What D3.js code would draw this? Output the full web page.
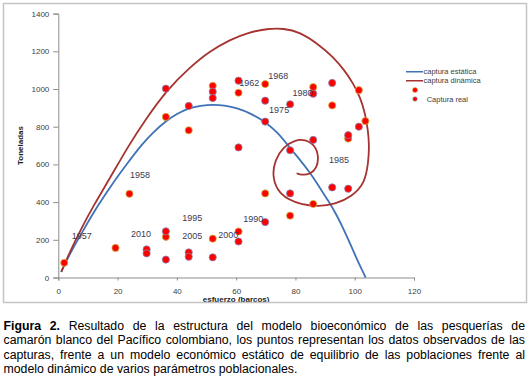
<!DOCTYPE html>
<html><head><meta charset="utf-8">
<script src="https://cdn.jsdelivr.net/npm/d3@7"></script>
<style>body{margin:0;background:#fff;} svg{display:block;}</style>
</head><body>
<svg id="c" width="531" height="381"></svg>
<script>
// ---------- data ----------
const xTicks = [0, 20, 40, 60, 80, 100, 120];
const yTicks = [0, 200, 400, 600, 800, 1000, 1200, 1400];

// captura estática
const staticCurve = [[1,30],[4,130],[8.5,252],[13,375],[19.7,530],[23,600],[28.3,709],[32,770],[36.4,832],[40,868],[44,899],[48,912],[52.2,918],[56,913],[60.2,900],[65,870],[69.5,830],[74,770],[78,690],[81.5,625],[85,555],[88,482],[91,409],[94,330],[96.6,245],[99,160],[101.2,80],[103.7,0]];

// captura dinámica
const dynamicCurve = [[1,30],[4,140],[7.5,252],[12,385],[17.4,526],[23.7,700],[29.5,840],[36.6,995],[44.4,1115],[51,1200],[58,1262],[64,1300],[70.5,1320],[76,1322],[81.5,1302],[87.5,1240],[92.7,1171],[96.5,1100],[99.5,1030],[102,950],[103.5,871],[104.5,780],[104.9,700],[104.6,610],[103.4,500],[99,429],[93.3,388],[87.7,376],[82.1,388],[77.6,411],[73.7,464],[72.2,544],[73.1,623],[75.9,694],[79.8,729],[83.2,733],[86.6,703],[87.9,641],[87.2,579],[84.9,547],[82.1,544],[80.4,553]];

// captura real, two marker series
const seriesA = [[2,78],[19.3,157],[24,444],[36.3,852],[36.3,216],[44,781],[52.1,1017],[52.1,206],[60.8,980],[60.8,244],[69.8,1026],[69.8,446],[78.2,328],[86,1010],[86,390],[92.4,913],[97.8,737],[101.4,994],[103.6,830]];
const seriesB = [[29.8,149],[29.8,128],[36.3,1002],[36.3,245],[36.3,95],[44,910],[44,133],[44,110],[52.1,986],[52.1,952],[52.1,107],[60.8,1044],[60.8,690],[60.8,191],[69.8,938],[69.8,827],[69.8,294],[78.2,919],[78.2,675],[78.2,446],[86,975],[86,730],[92.4,1032],[92.4,478],[97.8,755],[97.8,471],[101.4,800]];

// year annotations (label centres in data units)
const yearLabels = ["1957","1958","1962","1968","1975","1980","1985","1990","1995","2000","2005","2010"];
const yearX = [7.9, 27.6, 64.4, 74.2, 74.5, 82.4, 94.7, 65.8, 45.2, 57.3, 45.2, 27.9];
const yearY = [219, 542, 1030, 1069, 889, 980, 623, 312, 314, 224, 222, 232];

const legendLabels = ["captura estática", "captura dinámica", "", "Captura real"];
const xTitle = "esfuerzo (barcos)";
const yTitle = "Toneladas";

const captionBold = "Figura 2.";
const captionLines = [
  "Figura 2. Resultado de la estructura del modelo bioeconómico de las pesquerías de",
  "camarón blanco del Pacífico colombiano, los puntos representan los datos observados de las",
  "capturas, frente a un modelo económico estático de equilibrio de las poblaciones frente al",
  "modelo dinámico de varios parámetros poblacionales."
];

// ---------- drawing ----------
const svg = d3.select("#c");
const blue = "#3f72b6", red = "#a5332f";
const chartFont = "'Liberation Sans', Arial, sans-serif";

const x = d3.scaleLinear().domain([0, 120]).range([58.3, 414]);
const y = d3.scaleLinear().domain([0, 1400]).range([277.5, 13.6]);

svg.append("defs").append("clipPath").attr("id", "frameClip")
  .append("rect").attr("x", 3).attr("y", 3).attr("width", 524).attr("height", 299.5);

const chart = svg.append("g").attr("clip-path", "url(#frameClip)");

// axes
const yAxis = chart.append("g").attr("transform", `translate(${x(0)},0)`)
  .call(d3.axisLeft(y).tickValues(yTicks).tickFormat(d3.format("d")).tickSize(5).tickPadding(4));
const xAxis = chart.append("g").attr("transform", `translate(0,${y(0)})`)
  .call(d3.axisBottom(x).tickValues(xTicks).tickFormat(d3.format("d")).tickSize(3).tickPadding(8));
[xAxis, yAxis].forEach(a => {
  a.select(".domain").attr("stroke", "#8c8c8c");
  a.selectAll(".tick line").attr("stroke", "#8c8c8c");
  a.selectAll(".tick text").attr("fill", "#404040").style("font", `8px ${chartFont}`);
});

// axis titles
chart.append("text").attr("x", (x(0) + x(120)) / 2).attr("y", 302)
  .attr("text-anchor", "middle").attr("fill", "#1a1a1a")
  .style("font", `bold 8px ${chartFont}`).text(xTitle);
chart.append("text").attr("transform", `translate(22.5,${(y(0) + y(1400)) / 2}) rotate(-90)`)
  .attr("text-anchor", "middle").attr("fill", "#1a1a1a")
  .style("font", `bold 8px ${chartFont}`).text(yTitle);

// curves
const line = d3.line().x(d => x(d[0])).y(d => y(d[1])).curve(d3.curveBasis);
chart.append("path").datum(staticCurve).attr("d", line)
  .attr("fill", "none").attr("stroke", blue).attr("stroke-width", 1.8);
chart.append("path").datum(dynamicCurve).attr("d", line)
  .attr("fill", "none").attr("stroke", red).attr("stroke-width", 1.8);

// points
chart.append("g").selectAll("circle").data(seriesA).join("circle")
  .attr("cx", d => x(d[0])).attr("cy", d => y(d[1])).attr("r", 3.6)
  .attr("fill", "#ff0000").attr("stroke", "#c9bb4a").attr("stroke-width", 0.8);
chart.append("g").selectAll("circle").data(seriesB).join("circle")
  .attr("cx", d => x(d[0])).attr("cy", d => y(d[1])).attr("r", 3.6)
  .attr("fill", "#ff0000").attr("stroke", "#7d88bb").attr("stroke-width", 0.8);

// year labels
chart.append("g").selectAll("text").data(yearLabels).join("text")
  .attr("x", (d, i) => x(yearX[i])).attr("y", (d, i) => y(yearY[i]))
  .attr("dy", "0.35em").attr("text-anchor", "middle")
  .attr("fill", "#3d3a52").style("font", `9px ${chartFont}`).text(d => d);

// legend
const lg = chart.append("g");
const lgY = [71.7, 80.7, 90, 99];
lg.append("line").attr("x1", 406).attr("x2", 423).attr("y1", lgY[0]).attr("y2", lgY[0]).attr("stroke", blue).attr("stroke-width", 1.6);
lg.append("line").attr("x1", 406).attr("x2", 423).attr("y1", lgY[1]).attr("y2", lgY[1]).attr("stroke", red).attr("stroke-width", 1.6);
lg.append("circle").attr("cx", 415).attr("cy", lgY[2]).attr("r", 2.5).attr("fill", "#ff0000").attr("stroke", "#c9bb4a").attr("stroke-width", 0.5);
lg.append("circle").attr("cx", 415).attr("cy", lgY[3]).attr("r", 2.3).attr("fill", "#ff0000").attr("stroke", "#7fb0c0").attr("stroke-width", 0.6);
const lgX = [423.5, 423.5, 426.7, 426.7];
lg.selectAll("text").data(legendLabels).join("text")
  .attr("x", (d, i) => lgX[i]).attr("y", (d, i) => lgY[i]).attr("dy", "0.35em")
  .attr("fill", "#404040").style("font", `7.5px ${chartFont}`).text(d => d);

// frame
svg.append("rect").attr("x", 3.5).attr("y", 3.5).attr("width", 523).attr("height", 299)
  .attr("fill", "none").attr("stroke", "#c4c4c4").attr("stroke-width", 1.5);

// caption (justified)
const capLeft = 3.5, capRight = 525, capBase = 330, capLH = 14.4;
const boldWords = captionBold.split(" ");
captionLines.forEach((ln, li) => {
  const words = ln.split(" ");
  const nodes = words.map((w, wi) => {
    const bold = li === 0 && wi < boldWords.length;
    return svg.append("text").attr("y", capBase + li * capLH).attr("fill", "#000")
      .style("font", `${bold ? "bold " : ""}12.3px ${chartFont}`).text(w);
  });
  const widths = nodes.map(n => n.node().getComputedTextLength());
  const total = d3.sum(widths);
  let gap = 3.4;
  if (li < captionLines.length - 1) gap = (capRight - capLeft - total) / (words.length - 1);
  let cx = capLeft;
  nodes.forEach((n, i) => { n.attr("x", cx); cx += widths[i] + gap; });
});
</script>
</body></html>
